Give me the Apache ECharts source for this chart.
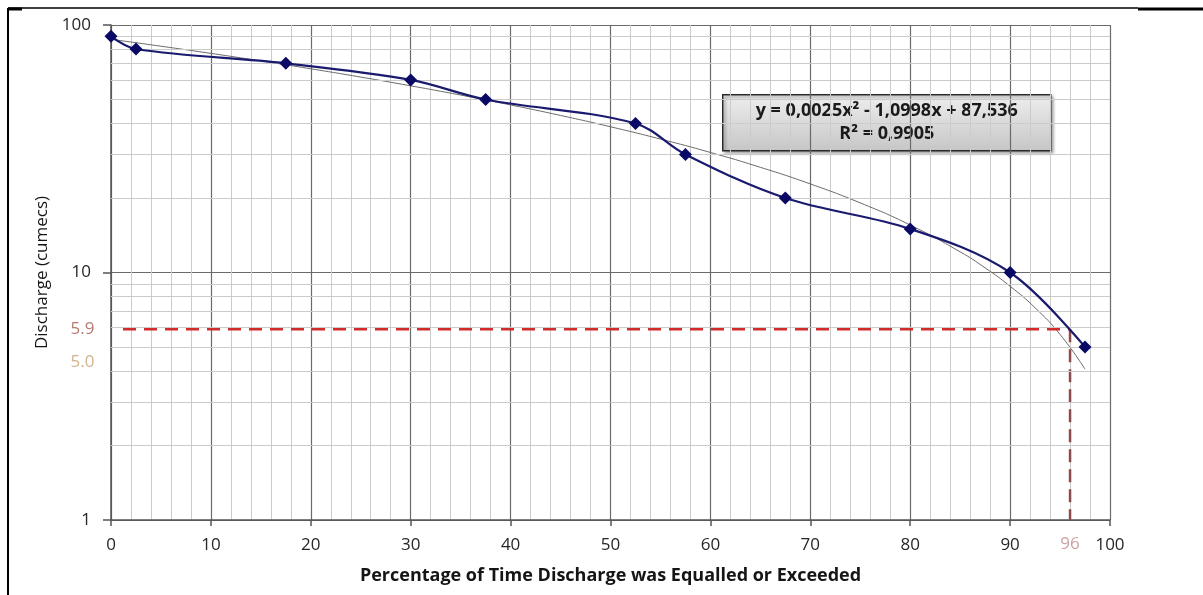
<!DOCTYPE html>
<html>
<head>
<meta charset="utf-8">
<script src="https://cdn.jsdelivr.net/npm/echarts@6/dist/echarts.min.js"></script>
<style>
html,body{margin:0;padding:0;background:#fff;}
#chart{width:1203px;height:595px;}
</style>
</head>
<body>
<div id="chart"></div>
<script>
// ---- data ----
const percentExceeded = [0, 2.5, 17.5, 30, 37.5, 52.5, 57.5, 67.5, 80, 90, 97.5];
const discharge       = [90, 80, 70, 60, 50, 40, 30, 20, 15, 10, 5.0];

// polynomial trendline values (as printed: y = 0,0025x² - 1,0998x + 87,536)
const trendX = [0, 5, 10, 15, 20, 25, 30, 35, 40, 45, 50, 55, 60, 65, 70, 75, 80, 85, 87.5, 90, 92.5, 95, 97.5];
const trendY = [87.54, 82.10, 76.79, 71.60, 66.54, 61.60, 56.79, 52.11, 47.54, 43.11, 38.80, 34.61, 30.55, 26.61, 22.80, 19.11, 15.55, 12.12, 10.44, 8.80, 7.20, 5.62, 4.07];

// reading of the 96 % discharge
const readX = 96;
const readY = 5.9;
const dashStartX = 1.2;
const yLowLabel = 5.0;

// axis ticks
const xTicks = [0, 10, 20, 30, 40, 50, 60, 70, 80, 90, 100];
const yTicks = [1, 10, 100];
const yMinorLines = [2, 3, 4, 5, 6, 7, 8, 9, 20, 30, 40, 50, 60, 70, 80, 90];

const equationText = 'y = 0,0025x² - 1,0998x + 87,536';
const r2Text = 'R² = 0,9905';

const FONT = '"Open Sans", Lato, sans-serif';

const chart = echarts.init(document.getElementById('chart'));

const dataPts = percentExceeded.map((x, i) => [x, discharge[i]]);
const trendPts = trendX.map((x, i) => [x, trendY[i]]);

const option = {
  animation: false,
  backgroundColor: '#ffffff',
  grid: { left: 111, right: 93, top: 25, bottom: 75, containLabel: false },
  xAxis: {
    type: 'value',
    min: xTicks[0],
    max: xTicks[xTicks.length - 1],
    interval: 10,
    name: 'Percentage of Time Discharge was Equalled or Exceeded',
    nameLocation: 'middle',
    nameGap: 47,
    nameTextStyle: { fontFamily: FONT, fontSize: 18, fontWeight: 'bold', color: '#151515' },
    axisLine: { show: true, lineStyle: { color: '#555', width: 1.5 } },
    axisTick: { show: true, length: 6, lineStyle: { color: '#555', width: 1.5 } },
    axisLabel: { fontFamily: FONT, fontSize: 17, color: '#262626', margin: 17 },
    splitLine: { show: true, lineStyle: { color: '#6a6a6a', width: 1.2 } },
    minorTick: { show: false, splitNumber: 5 },
    minorSplitLine: { show: true, lineStyle: { color: '#cbcbcb', width: 1 } }
  },
  yAxis: {
    type: 'log',
    logBase: 10,
    min: yTicks[0],
    max: yTicks[yTicks.length - 1],
    name: 'Discharge (cumecs)',
    nameLocation: 'middle',
    nameGap: 58,
    nameTextStyle: { fontFamily: FONT, fontSize: 17, color: '#151515' },
    axisLine: { show: true, lineStyle: { color: '#555', width: 1.5 } },
    axisTick: { show: true, length: 8, lineStyle: { color: '#555', width: 1.5 } },
    axisLabel: { fontFamily: FONT, fontSize: 17, color: '#262626', margin: 20 },
    splitLine: { show: true, lineStyle: { color: '#6a6a6a', width: 1.2 } }
  },
  series: [
    {
      name: 'minorGrid',
      type: 'line',
      data: [],
      silent: true,
      markLine: {
        silent: true,
        symbol: 'none',
        label: { show: false },
        lineStyle: { color: '#cbcbcb', width: 1, type: 'solid' },
        emphasis: { disabled: true },
        data: yMinorLines.map(v => ({ yAxis: v }))
      },
      z: 1
    },
    {
      name: 'Trendline',
      type: 'line',
      data: trendPts,
      smooth: true,
      symbol: 'none',
      lineStyle: { color: '#6a6a6a', width: 1 },
      z: 3
    },
    {
      name: 'Discharge',
      type: 'line',
      data: dataPts,
      smooth: 0.35,
      symbol: 'diamond',
      symbolSize: 13,
      itemStyle: { color: '#0a0a66' },
      lineStyle: { color: '#1a1a6e', width: 2.2 },
      z: 5
    },
    {
      name: 'readH',
      type: 'line',
      data: [[dashStartX, readY], [readX, readY]],
      symbol: 'none',
      lineStyle: { color: '#d12b2b', width: 2.5, type: [13, 8] },
      z: 4
    },
    {
      name: 'readV',
      type: 'line',
      data: [[readX, readY], [readX, yTicks[0]]],
      symbol: 'none',
      lineStyle: { color: '#8c4a4a', width: 2.5, type: [13, 7] },
      z: 4
    },
    {
      name: 'readLabels',
      type: 'scatter',
      symbolSize: 1,
      itemStyle: { color: 'rgba(0,0,0,0)' },
      silent: true,
      data: [
        { value: [xTicks[0], readY], label: { show: true, position: 'left', distance: 16, formatter: readY.toFixed(1), color: '#a8564f', fontFamily: FONT, fontSize: 17 } },
        { value: [xTicks[0], yLowLabel], label: { show: true, position: 'left', distance: 16, offset: [0, 15], formatter: yLowLabel.toFixed(1), color: '#c4a070', fontFamily: FONT, fontSize: 17 } },
        { value: [readX, yTicks[0]], label: { show: true, position: 'bottom', distance: 15, formatter: String(readX), color: '#c08a8a', fontFamily: FONT, fontSize: 17 } }
      ],
      z: 6
    }
  ],
  graphic: [
    { type: 'line', shape: { x1: 8, y1: 8, x2: 8, y2: 595 }, style: { stroke: '#000', lineWidth: 2 }, silent: true },
    { type: 'line', shape: { x1: 8, y1: 8, x2: 1138, y2: 8 }, style: { stroke: '#000', lineWidth: 1.5 }, silent: true },
    { type: 'line', shape: { x1: 8, y1: 9, x2: 22, y2: 9 }, style: { stroke: '#000', lineWidth: 3 }, silent: true },
    { type: 'line', shape: { x1: 1138, y1: 9, x2: 1203, y2: 9 }, style: { stroke: '#000', lineWidth: 3 }, silent: true },
    {
      type: 'group',
      left: 722,
      top: 94,
      z: 100,
      children: [
        {
          type: 'rect',
          shape: { x: 0, y: 0, width: 328, height: 56 },
          style: {
            fill: new echarts.graphic.LinearGradient(0, 0, 0, 1, [
              { offset: 0, color: '#eeeeee' },
              { offset: 1, color: '#c6c6c6' }
            ]),
            stroke: '#2a2a2a',
            lineWidth: 1.5,
            shadowBlur: 3,
            shadowOffsetX: 2,
            shadowOffsetY: 2,
            shadowColor: 'rgba(0,0,0,0.35)'
          }
        },
        {
          type: 'text',
          x: 164, y: 16,
          style: { text: equationText, fill: '#1a1a1a', font: 'bold 18px ' + FONT, align: 'center', verticalAlign: 'middle' }
        },
        {
          type: 'text',
          x: 164, y: 39,
          style: { text: r2Text, fill: '#1a1a1a', font: 'bold 18px ' + FONT, align: 'center', verticalAlign: 'middle' }
        }
      ]
    }
  ]
};

chart.setOption(option);
</script>
</body>
</html>
